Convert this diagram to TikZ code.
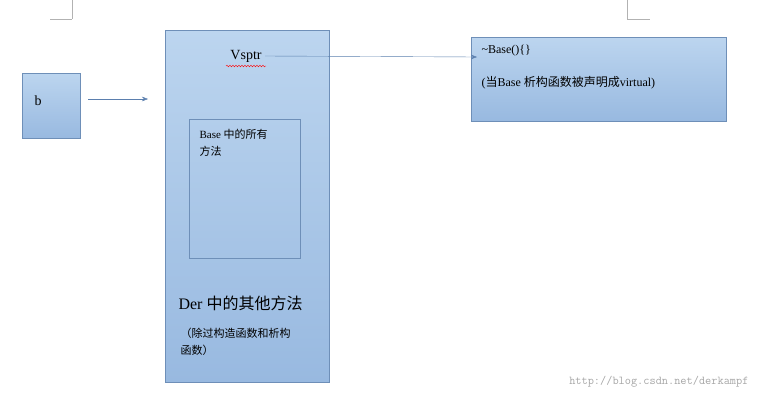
\documentclass[tikz,border=0pt]{standalone}
\usepackage{fontspec}
\setmainfont{Liberation Serif}
\newfontfamily\cjk{Noto Sans CJK SC}
\usetikzlibrary{positioning,arrows.meta,decorations.pathmorphing}
\newcommand*{\zh}[1]{{\cjk #1}}
\definecolor{boxtop}{HTML}{BCD5EF}
\definecolor{boxbot}{HTML}{98B9E0}
\definecolor{boxline}{HTML}{6E8FB8}
\definecolor{arrowc}{HTML}{5B7FAE}
\tikzset{
  membox/.style={draw=boxline,thin,top color=boxtop,bottom color=boxbot},
  plainbox/.style={draw=boxline,thin},
  link/.style={draw=arrowc,thin,-{Stealth[length=6pt]}}
}
\begin{document}
\begin{tikzpicture}[x=1pt,y=-1pt]
\useasboundingbox (0,0) rectangle (759,402);
% page corner marks
\draw[gray!60] (50,19) -- (72,19) (72,0) -- (72,19);
\draw[gray!60] (627,0) -- (627,19) -- (650,19);
% the boxes
\path[membox] (22,73) rectangle (80,138);
\node[anchor=west,font=\fontsize{14}{16}\selectfont] (b) at (31,101) {b};
\path[membox] (165,30) rectangle (329,382);
\path[plainbox] (189,119) rectangle (300,258);
\path[membox] (471,37) rectangle (726,121);
% texts
\node[font=\fontsize{14}{16}\selectfont] (vsptr) at (246,56) {Vsptr};
\draw[red,decorate,decoration={snake,amplitude=0.8pt,segment length=3pt}]
  (226,66) -- (266,66);
\node[anchor=north west,align=left,font=\fontsize{11}{17}\selectfont]
  (base) at (196,126) {Base \zh{中的所有}\\\zh{方法}};
\node[anchor=west,font=\fontsize{16}{18}\selectfont] (der) at (175,303)
  {Der \zh{中的其他方法}};
\node[anchor=north west,align=left,font=\fontsize{11}{17}\selectfont]
  (except) at (177,325) {\zh{（除过构造函数和析构}\\\zh{函数）}};
\node[anchor=west,font=\fontsize{12}{14}\selectfont] (dtor) at (478,51) {\textasciitilde Base()\{\}};
\node[anchor=west,font=\fontsize{12}{14}\selectfont] (note) at (478,83)
  {(\zh{当}Base \zh{析构函数被声明成}virtual)};
% connectors
\coordinate (bout) at (88,99);
\coordinate (derin) at (148,99);
\coordinate (dtorin) at (477,57);
\draw[link] (bout) -- (derin);
\draw[link] (vsptr.east) -- (dtorin);
% watermark
\node[anchor=east,gray!70,font=\ttfamily\fontsize{12}{14}\selectfont] (mark) at (752,382)
  {http://blog.csdn.net/derkampf};
\end{tikzpicture}
\end{document}
